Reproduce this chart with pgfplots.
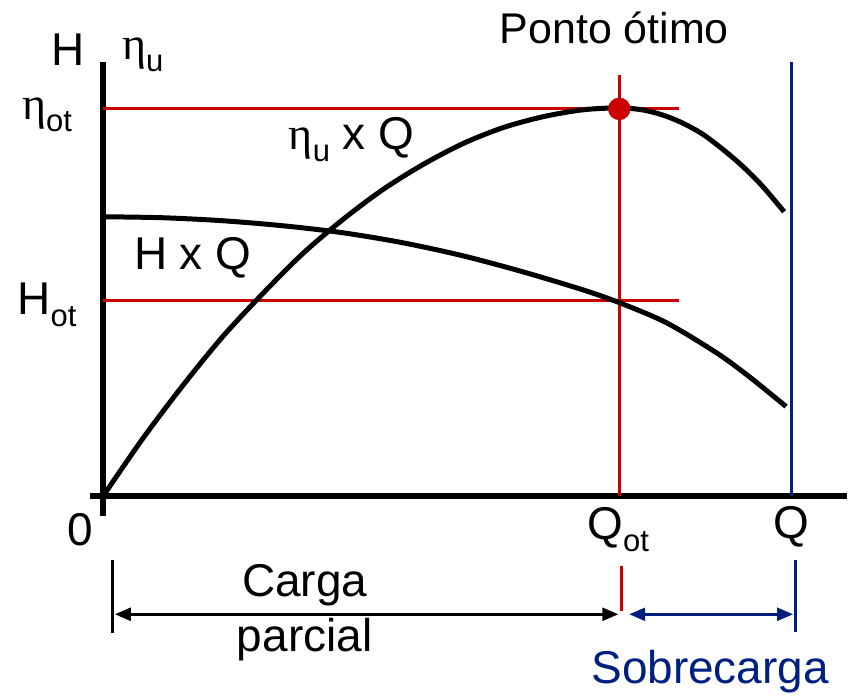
\documentclass[border=0pt]{standalone}
\usepackage{pgfplots}
\pgfplotsset{compat=1.18}
\usepackage{fontspec}
\setmainfont{Liberation Sans}
\newfontfamily\grk{Liberation Serif}
\usetikzlibrary{arrows.meta}
\definecolor{redc}{RGB}{204,0,0}
\definecolor{bluec}{RGB}{0,32,128}
\newcommand{\sub}[1]{\raisebox{-0.25em}{\fontsize{31}{32}\selectfont #1}}
\newcommand{\eeta}{{\grk η}}
\begin{document}
\begin{tikzpicture}[font=\fontsize{46}{52}\selectfont]
\begin{axis}[
  scale only axis, width=850pt, height=697pt,
  xmin=-103, xmax=747, ymin=-200, ymax=497,
  hide axis, clip=false,
]
\path (rel axis cs:0,0) rectangle (rel axis cs:1,1);
% axes
\addplot[black, line width=6pt] coordinates {(0,-20) (0,435)};
\addplot[black, line width=6pt] coordinates {(-13,0) (745,0)};
% reference lines
\addplot[redc, line width=3pt] coordinates {(0,388) (577,388)};
\addplot[redc, line width=3pt] coordinates {(0,196) (577,196)};
\addplot[redc, line width=3pt] coordinates {(517,0) (517,422)};
\addplot[bluec, line width=3pt] coordinates {(689,0) (689,435)};
% efficiency curve
\addplot[black, line width=5pt, smooth] coordinates {
 (0,0) (40,58) (80,111) (120,160) (160,203) (200,243) (240,277)
 (280,307) (320,332) (360,353) (400,369) (440,380) (480,387) (517,389)
 (540,387) (560,382) (580,374) (600,363) (620,348) (640,331) (660,311) (682,285)};
% head curve
\addplot[black, line width=5pt, smooth] coordinates {
 (0,280) (60,279) (120,276) (180,271) (240,264) (300,254) (360,241)
 (420,225) (480,207) (517,194) (564,174) (614,144) (647,120) (684,90)};
% optimum point
\addplot[only marks, mark=*, mark size=11pt, redc, mark options={draw=redc, fill=redc}] coordinates {(517,388)};
% bottom ranges
\addplot[black, line width=3pt] coordinates {(10,-64) (10,-137)};
\addplot[black, line width=2.5pt, {Triangle[length=16pt,width=13pt]}-{Triangle[length=16pt,width=13pt]}] coordinates {(12,-118) (516,-118)};
\addplot[redc, line width=3pt] coordinates {(519,-70) (519,-115)};
\addplot[bluec, line width=2.5pt, {Triangle[length=16pt,width=13pt]}-{Triangle[length=16pt,width=13pt]}] coordinates {(527,-118) (691,-118)};
\addplot[bluec, line width=3pt] coordinates {(693,-64) (693,-136)};
% labels
\node at (axis cs:-35,447) {H};
\node at (axis cs:40,442) {\eeta\sub{u}};
\node at (axis cs:-56,382) {\eeta\sub{ot}};
\node at (axis cs:-56,192) {H\sub{ot}};
\node at (axis cs:-23,-33) {0};
\node at (axis cs:516,-33) {Q\sub{ot}};
\node at (axis cs:689,-30) {Q};
\node[font=\fontsize{43}{50}\selectfont] at (axis cs:512,469) {Ponto ótimo};
\node at (axis cs:249,357) {\eeta\sub{u} x Q};
\node at (axis cs:90,239) {H x Q};
\node at (axis cs:202,-89) {Carga};
\node at (axis cs:202,-143) {parcial};
\node[text=bluec] at (axis cs:608,-175) {Sobrecarga};
\end{axis}
\end{tikzpicture}
\end{document}
